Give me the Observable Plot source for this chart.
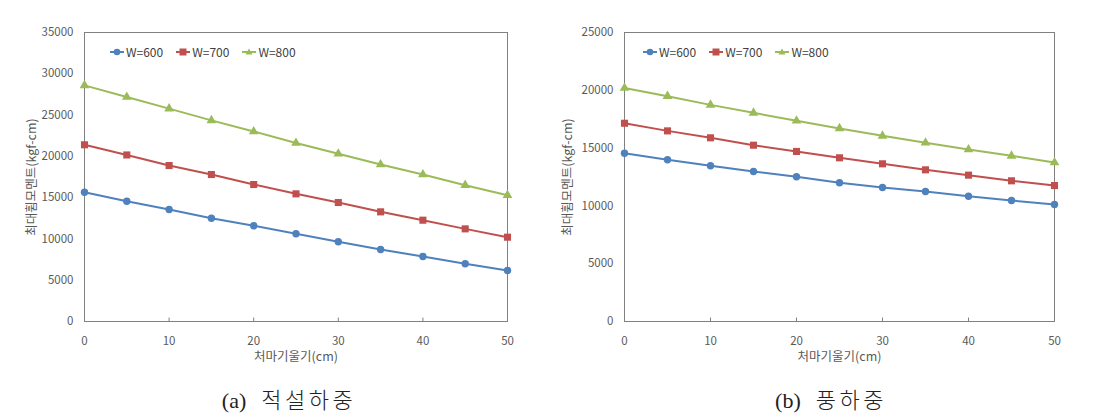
<!DOCTYPE html>
<html>
<head>
<meta charset="utf-8">
<script src="https://cdn.jsdelivr.net/npm/d3@7"></script>
<script src="https://cdn.jsdelivr.net/npm/@observablehq/plot@0.6"></script>
<style>
  body { margin: 0; background: #fff; }
  #wrap { position: relative; width: 1111px; height: 418px; overflow: hidden; font-family: "Noto Sans CJK KR", "Noto Sans", sans-serif; }
  .fig { position: absolute; top: 0; }
  .cap { position: absolute; top: 382px; font-family: "Liberation Serif", "Noto Sans CJK KR", serif; font-size: 22px; color: #222; white-space: nowrap; transform: translateX(-50%); }
  .cap .ko { letter-spacing: 3.5px; margin-left: 15px; font-weight: 300; }
  .legend { position: absolute; top: 43px; display: flex; font-size: 12px; color: #404040; }
  .legend .item { display: flex; align-items: center; margin-right: 12px; }
  .legend svg { margin-right: 1px; }
</style>
</head>
<body>
<div id="wrap"></div>
<script>
const slope = [0, 5, 10, 15, 20, 25, 30, 35, 40, 45, 50];
const seriesNames = ["W=600", "W=700", "W=800"];
const seriesColors = ["#4F81BD", "#C0504D", "#9BBB59"];
const seriesSymbols = ["circle", "square", "triangle"];

// (a) 적설하중
const snow600 = [15660, 14570, 13560, 12510, 11590, 10620, 9650, 8720, 7870, 6990, 6180];
const snow700 = [21400, 20170, 18890, 17800, 16590, 15460, 14410, 13280, 12270, 11220, 10210];
const snow800 = [28600, 27180, 25780, 24360, 23010, 21620, 20310, 19010, 17800, 16510, 15300];

// (b) 풍하중
const wind600 = [14560, 13990, 13470, 12980, 12520, 12000, 11590, 11250, 10840, 10470, 10120];
const wind700 = [17150, 16490, 15890, 15250, 14710, 14160, 13640, 13120, 12660, 12170, 11760];
const wind800 = [20200, 19490, 18740, 18050, 17360, 16700, 16060, 15460, 14880, 14330, 13750];

const xTicks = [0, 10, 20, 30, 40, 50];
const yTicksA = [0, 5000, 10000, 15000, 20000, 25000, 30000, 35000];
const yTicksB = [0, 5000, 10000, 15000, 20000, 25000];
const xLabel = "처마기울기(cm)";
const yLabel = "최대휨모멘트(kgf-cm)";
const captionTags = ["(a)", "(b)"];
const captionTexts = ["적설하중", "풍하중"];

function rows(arrs) {
  const out = [];
  arrs.forEach((arr, i) => arr.forEach((v, j) => out.push({x: slope[j], y: v, s: seriesNames[i]})));
  return out;
}

const textColor = "#595959";
const axisColor = "#808080";

function makeChart(data, yMax, yTicks, width, ml, mr, yLabelOffset) {
  const marks = [
    Plot.frame({stroke: axisColor, strokeWidth: 1}),
    Plot.ruleX(xTicks.slice(1, -1), {x: d => d, y1: 0, y2: yMax * 0.012, stroke: axisColor}),
    Plot.axisY({ticks: yTicks, tickSize: 0, tickPadding: 11, tickFormat: d => String(d),
      fontSize: 11.5, color: textColor, label: null}),
    Plot.axisX({ticks: xTicks, tickSize: 0, tickPadding: 15, tickFormat: d => String(d),
      fontSize: 11.5, color: textColor, label: null}),
    Plot.text([yLabel], {frameAnchor: "left", text: d => d, rotate: -90, dx: -yLabelOffset,
      textAnchor: "middle", fontSize: 12.5, fill: textColor}),
    Plot.text([xLabel], {frameAnchor: "bottom", text: d => d, dy: 39,
      textAnchor: "middle", fontSize: 12.5, fill: textColor})
  ];
  seriesNames.forEach((name, i) => {
    const d = data.filter(r => r.s === name);
    marks.push(Plot.line(d, {x: "x", y: "y", stroke: seriesColors[i], strokeWidth: 2}));
    marks.push(Plot.dot(d, {x: "x", y: "y", fill: seriesColors[i], stroke: "none",
      symbol: seriesSymbols[i], r: seriesSymbols[i] === "circle" ? 3.7 : seriesSymbols[i] === "square" ? 4 : 3.6}));
  });
  return Plot.plot({
    width, height: 380,
    marginTop: 32, marginBottom: 59, marginLeft: ml, marginRight: mr,
    style: {fontFamily: '"Noto Sans CJK KR", "Noto Sans", sans-serif', fontSize: "11.5px", color: textColor, background: "transparent", overflow: "visible"},
    x: {domain: [0, 50]},
    y: {domain: [0, yMax]},
    marks
  });
}

function legend(left) {
  const div = document.createElement("div");
  div.className = "legend";
  div.style.left = left + "px";
  seriesNames.forEach((name, i) => {
    const item = document.createElement("div");
    item.className = "item";
    let sym = "";
    if (seriesSymbols[i] === "circle") sym = `<circle cx="8" cy="6" r="3.3" fill="${seriesColors[i]}"/>`;
    else if (seriesSymbols[i] === "square") sym = `<rect x="4.5" y="2.5" width="7" height="7" fill="${seriesColors[i]}"/>`;
    else sym = `<path d="M8,2.5L11.5,8.5L4.5,8.5Z" fill="${seriesColors[i]}"/>`;
    item.innerHTML = `<svg width="16" height="12"><line x1="1" x2="15" y1="6" y2="6" stroke="${seriesColors[i]}" stroke-width="2"/>${sym}</svg><span>${name}</span>`;
    div.appendChild(item);
  });
  return div;
}

const wrap = document.getElementById("wrap");

const figA = document.createElement("div");
figA.className = "fig"; figA.style.left = "0px";
figA.appendChild(makeChart(rows([snow600, snow700, snow800]), 35000, yTicksA, 555, 84, 48, 53));
wrap.appendChild(figA);

const figB = document.createElement("div");
figB.className = "fig"; figB.style.left = "556px";
figB.appendChild(makeChart(rows([wind600, wind700, wind800]), 25000, yTicksB, 555, 68, 57, 57));
wrap.appendChild(figB);

wrap.appendChild(legend(109));
wrap.appendChild(legend(642));

captionTags.forEach((tag, i) => {
  const d = document.createElement("div");
  d.className = "cap";
  d.style.left = (i === 0 ? 289 : 831) + "px";
  const t = document.createElement("span");
  t.textContent = tag;
  const k = document.createElement("span");
  k.className = "ko";
  k.textContent = captionTexts[i];
  d.appendChild(t);
  d.appendChild(k);
  wrap.appendChild(d);
});
</script>
</body>
</html>
